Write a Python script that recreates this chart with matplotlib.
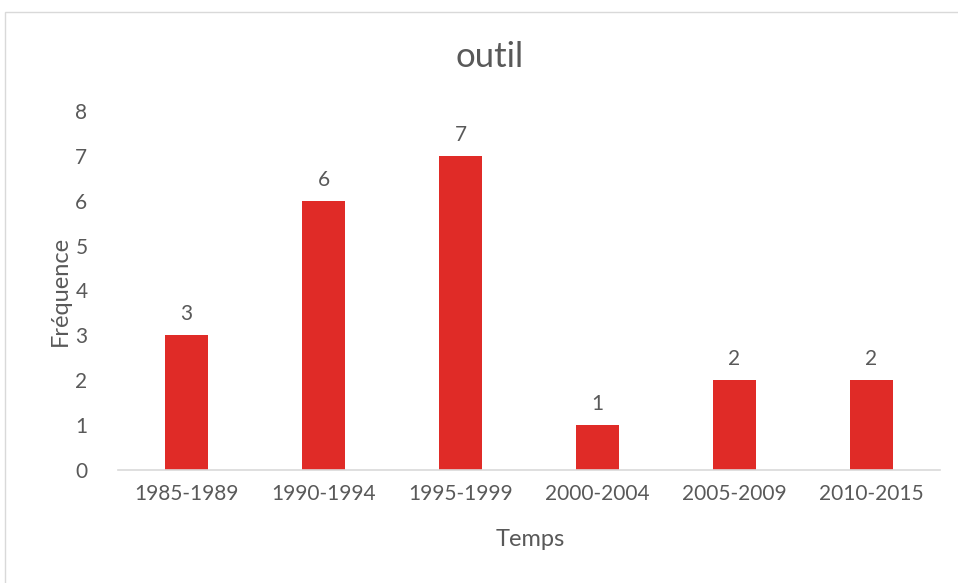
import matplotlib
matplotlib.use("Agg")
import matplotlib.pyplot as plt
from matplotlib.patches import Rectangle

categories = ["1985-1989", "1990-1994", "1995-1999", "2000-2004", "2005-2009", "2010-2015"]
values = [3, 6, 7, 1, 2, 2]
yticks = [0, 1, 2, 3, 4, 5, 6, 7, 8]

plt.rcParams['font.family'] = ['Lato', 'DejaVu Sans']
TXT = '#595959'
W, H = 958, 583
fig = plt.figure(figsize=(W/100, H/100), dpi=100)
fig.patches.append(Rectangle((5/W, -0.1), 1.2, 1.1 - 12/H, transform=fig.transFigure,
                             fill=False, edgecolor='#d9d9d9', linewidth=1))
ax = fig.add_axes([118/W, 1 - 470/H, (940-118)/W, (470-111)/H])
x = list(range(len(categories)))
ax.bar(x, values, width=0.315, color='#E02B27')
for xi, v in zip(x, values):
    ax.text(xi, v + 0.25, str(v), ha='center', va='bottom', fontsize=15, color=TXT)
ax.set_xlim(-0.5, len(categories) - 0.5)
ax.set_ylim(0, 8)
ax.set_yticks(yticks)
ax.set_xticks(x)
ax.set_xticklabels(categories)
ax.tick_params(axis='both', length=0, labelsize=15, labelcolor=TXT)
ax.tick_params(axis='y', pad=22)
ax.tick_params(axis='x', pad=10)
for s in ['top', 'right', 'left']:
    ax.spines[s].set_visible(False)
ax.spines['bottom'].set_color('#d9d9d9')
ax.spines['bottom'].set_linewidth(1.2)
fig.text(490/W, 1 - 57/H, 'outil', ha='center', va='center', fontsize=25, color=TXT)
fig.text(60/W, 1 - 291/H, 'Fréquence', ha='center', va='center', rotation=90, fontsize=17, color=TXT)
fig.text(530/W, 1 - 540/H, 'Temps', ha='center', va='center', fontsize=17, color=TXT)
fig.savefig('out.png', dpi=100)
